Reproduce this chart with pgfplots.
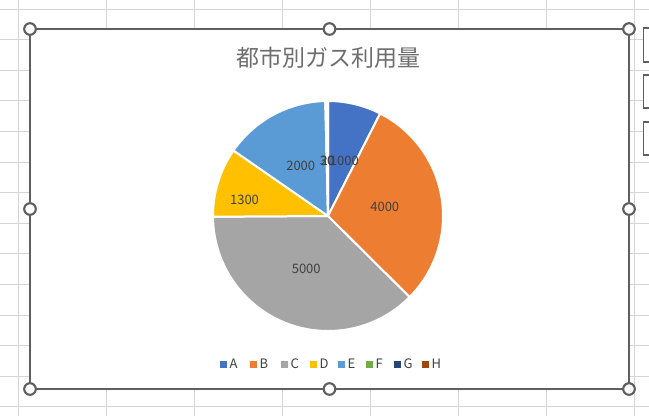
\documentclass[border=0pt]{standalone}
\usepackage{fontspec}
\setmainfont{Noto Sans CJK JP}
\usepackage{pgfplots}
\usepackage{pgfplotstable}
\pgfplotsset{compat=1.18}

\definecolor{cA}{HTML}{4472C4}
\definecolor{cB}{HTML}{ED7D31}
\definecolor{cC}{HTML}{A5A5A5}
\definecolor{cD}{HTML}{FFC000}
\definecolor{cE}{HTML}{5B9BD5}
\definecolor{cF}{HTML}{70AD47}
\definecolor{cG}{HTML}{264478}
\definecolor{cH}{HTML}{9E480E}
\definecolor{cellgrid}{HTML}{D4D4D4}
\definecolor{frame}{HTML}{5F5F5F}
\definecolor{lbl}{HTML}{404040}
\definecolor{ttl}{HTML}{6E6E6E}

\newcommand\lblfont{\fontsize{13}{15}\selectfont}

% gas use per city; frac = label distance from centre (share of radius),
% dang = label angle shift (deg), like Excel's best-fit placement
\pgfplotstableread{
name value color frac dang
A 1000 cA 0.50 -3
B 4000 cB 0.50 0
C 5000 cC 0.50 0
D 1300 cD 0.74 6
E 2000 cE 0.50 0
F 30   cF 0.48 0
G 20   cG 0.48 0
H 0    cH 0.48 0
}\gasdata

\def\cx{328}
\def\cy{216}
\def\R{115}

\begin{document}
\begin{tikzpicture}
\begin{axis}[
    width=649pt, height=416pt, scale only axis,
    xmin=0, xmax=649, ymin=0, ymax=416,
    y dir=reverse,
    hide axis, clip=false,
]
% worksheet cells
\pgfplotsinvokeforeach{18.6,106.6,194.6,282.6,370.6,458.6,546.6,634.6}{
  \draw[cellgrid, line width=1pt] (axis cs:#1,0) -- (axis cs:#1,416);
}
\pgfplotsinvokeforeach{9,39.6,70.2,100.8,131.4,162,192.6,223.2,253.8,284.4,315,345.6,376.2,406.8}{
  \draw[cellgrid, line width=1pt] (axis cs:0,#1) -- (axis cs:649,#1);
}
% chart area
\filldraw[fill=white, draw=frame, line width=1.3pt] (axis cs:30,29) rectangle (axis cs:629,389);

\node[font=\fontsize{23}{27}\selectfont, text=ttl] at (axis cs:328,58) {都市別ガス利用量};

% pie slices
\pgfplotstablegetrowsof{\gasdata}
\pgfmathtruncatemacro\nrows{\pgfplotsretval-1}
\def\total{0}
\pgfplotsforeachungrouped \i in {0,...,\nrows}{
  \pgfplotstablegetelem{\i}{value}\of\gasdata
  \pgfmathsetmacro\total{\total+\pgfplotsretval}
}
\def\cum{0}
\pgfplotsforeachungrouped \i in {0,...,\nrows}{
  \pgfplotstablegetelem{\i}{value}\of\gasdata \let\val\pgfplotsretval
  \pgfplotstablegetelem{\i}{color}\of\gasdata \let\col\pgfplotsretval
  \pgfmathsetmacro\aS{90-360*(\cum/\total)}
  \pgfmathsetmacro\cumn{\cum+\val}
  \pgfmathsetmacro\aE{90-360*(\cumn/\total)}
  \ifdim\val pt>0pt
    \edef\cmd{\noexpand\filldraw[fill=\col, draw=white, line width=2pt, line join=round]
      (axis cs:\cx,\cy) -- ++(\aS:\R pt) arc[start angle=\aS, end angle=\aE, radius=\R pt] -- cycle;}
    \cmd
  \fi
  \let\cum\cumn
}
% data labels
\def\cum{0}
\pgfplotsforeachungrouped \i in {0,...,\nrows}{
  \pgfplotstablegetelem{\i}{value}\of\gasdata \let\val\pgfplotsretval
  \pgfplotstablegetelem{\i}{frac}\of\gasdata \let\fr\pgfplotsretval
  \pgfplotstablegetelem{\i}{dang}\of\gasdata \let\da\pgfplotsretval
  \pgfmathsetmacro\aS{90-360*(\cum/\total)}
  \pgfmathsetmacro\cumn{\cum+\val}
  \pgfmathsetmacro\aE{90-360*(\cumn/\total)}
  \pgfmathsetmacro\aM{(\aS+\aE)/2+\da}
  \pgfmathsetmacro\lx{\cx+\fr*\R*cos(\aM)}
  \pgfmathsetmacro\ly{\cy-\fr*\R*sin(\aM)}
  \ifdim\val pt>0pt
    \edef\cmd{\noexpand\node[font=\noexpand\lblfont, text=lbl, inner sep=0pt] at (axis cs:\lx,\ly) {\val};}
    \cmd
  \fi
  \let\cum\cumn
}

% legend
\pgfplotsinvokeforeach{220/A/cA,250/B/cB,281/C/cC,310/D/cD,338/E/cE,366/F/cF,394/G/cG,422/H/cH}{
  \foreach \sx/\nm/\cl in {#1}{
    \edef\cmd{\noexpand\fill[\cl] (axis cs:\sx,360.5) rectangle (axis cs:\sx+7,367.5);
      \noexpand\node[anchor=west, inner sep=0pt, font=\noexpand\lblfont, text=lbl] at (axis cs:\sx+9.5,363.5) {\nm};}
    \cmd
  }
}

% selection handles
\pgfplotsinvokeforeach{30/29,329.5/29,629/29,30/209,629/209,30/389,329.5/389,629/389}{
  \foreach \hx/\hy in {#1}{
    \edef\cmd{\noexpand\filldraw[fill=white, draw=frame, line width=2.1pt] (axis cs:\hx,\hy) circle[radius=5.8pt];}
    \cmd
  }
}
% side buttons
\pgfplotsinvokeforeach{28/62,75/108,122/155}{
  \foreach \ya/\yb in {#1}{
    \edef\cmd{\noexpand\filldraw[fill=white, draw=frame, line width=1.2pt] (axis cs:643.5,\ya) rectangle (axis cs:660,\yb);}
    \cmd
  }
}
\end{axis}
\pgfresetboundingbox
\path (0,0) rectangle (649pt,416pt);
\end{tikzpicture}
\end{document}
